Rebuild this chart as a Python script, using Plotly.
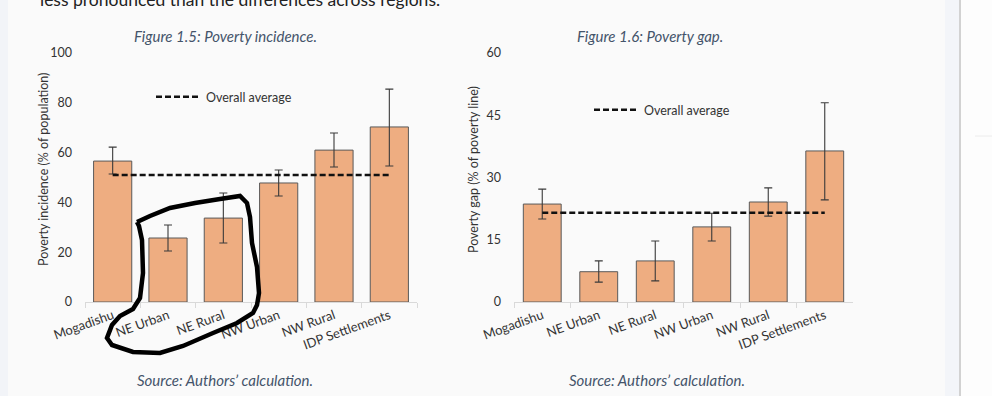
import plotly.graph_objects as go

W, H = 992, 396

categories = ["Mogadishu", "NE Urban", "NE Rural", "NW Urban", "NW Rural", "IDP Settlements"]

# Figure 1.5: Poverty incidence (% of population)
incidence = [56.6, 25.7, 33.7, 47.8, 61.0, 70.3]
incidence_hi = [62.2, 30.9, 43.8, 53.0, 67.9, 85.5]
incidence_lo = [51.4, 20.5, 23.7, 42.6, 54.2, 54.6]
incidence_avg = 51.0

# Figure 1.6: Poverty gap (% of poverty line)
gap = [23.6, 7.3, 9.9, 18.1, 24.1, 36.4]
gap_hi = [27.2, 9.9, 14.7, 21.4, 27.5, 48.0]
gap_lo = [20.0, 4.8, 5.1, 14.7, 20.7, 24.6]
gap_avg = 21.5

left_ticks = [0, 20, 40, 60, 80, 100]
right_ticks = [0, 15, 30, 45, 60]

FONT = "Lato, 'Open Sans', sans-serif"
BAR = "#EEAD81"
BAR_LINE = "#5a5a5a"
CAP = "#44546A"

# hand-drawn loop around NE Urban / NE Rural (pixel coords of the picture)
LOOP_PX = [(137, 222), (150, 216), (170, 208), (195, 203), (220, 199), (240, 196),
           (247, 203), (250, 217), (252, 243), (257, 267), (259, 293), (257, 305),
           (253, 313), (237, 323), (213, 333), (183, 346), (160, 353), (133, 352),
           (112, 345), (107, 338), (112, 325), (120, 316), (133, 309), (140, 298),
           (143, 273), (142, 240), (139, 226), (137, 222)]


def px(x):
    return x / W


def py(y):
    return 1 - y / H


def err(vals, hi, lo):
    return dict(type="data", symmetric=False,
                array=[h - v for h, v in zip(hi, vals)],
                arrayminus=[v - l for v, l in zip(vals, lo)],
                color="#3a3a3a", thickness=1.1, width=4)


fig = go.Figure()

fig.add_trace(go.Bar(x=categories, y=incidence, error_y=err(incidence, incidence_hi, incidence_lo),
                     marker=dict(color=BAR, line=dict(color=BAR_LINE, width=1)),
                     width=0.69, showlegend=False, xaxis="x", yaxis="y"))
fig.add_trace(go.Scatter(x=categories, y=[incidence_avg] * len(categories), mode="lines",
                         line=dict(color="#111111", width=2.5, dash="6px,3px"),
                         name="Overall average", legend="legend", xaxis="x", yaxis="y"))

fig.add_trace(go.Bar(x=categories, y=gap, error_y=err(gap, gap_hi, gap_lo),
                     marker=dict(color=BAR, line=dict(color=BAR_LINE, width=1)),
                     width=0.67, showlegend=False, xaxis="x2", yaxis="y2"))
fig.add_trace(go.Scatter(x=categories, y=[gap_avg] * len(categories), mode="lines",
                         line=dict(color="#111111", width=2.5, dash="6px,3px"),
                         name="Overall average", legend="legend2", xaxis="x2", yaxis="y2"))

xcommon = dict(type="category", showline=True, linecolor="#d9d9d9", linewidth=1,
               ticks="outside", tickson="boundaries", ticklen=5, tickcolor="#d9d9d9",
               tickangle=-20, showgrid=False, zeroline=False, automargin=False,
               tickfont=dict(family=FONT, size=13, color="#333333"), fixedrange=True)
ycommon = dict(showgrid=False, zeroline=False, showline=False, ticks="",
               ticklabelstandoff=12, tickfont=dict(family=FONT, size=12.5, color="#333333"),
               fixedrange=True, automargin=False)

fig.update_layout(
    width=W, height=H, autosize=False,
    margin=dict(l=0, r=0, t=0, b=0, pad=0),
    paper_bgcolor="#fafafa", plot_bgcolor="rgba(0,0,0,0)",
    font=dict(family=FONT, color="#333333"),
    xaxis=dict(domain=[px(85), px(417)], anchor="y", **xcommon),
    yaxis=dict(domain=[py(302), py(53)], anchor="x", range=[0, 100],
               tickvals=left_ticks, **ycommon),
    xaxis2=dict(domain=[px(514), px(853)], anchor="y2", **xcommon),
    yaxis2=dict(domain=[py(302), py(53)], anchor="x2", range=[0, 60],
                tickvals=right_ticks, **ycommon),
    legend=dict(x=px(151), y=py(97), xanchor="left", yanchor="middle",
                bgcolor="rgba(0,0,0,0)", font=dict(family=FONT, size=12.5, color="#333333"),
                itemwidth=45),
    legend2=dict(x=px(589), y=py(110), xanchor="left", yanchor="middle",
                 bgcolor="rgba(0,0,0,0)", font=dict(family=FONT, size=12.5, color="#333333"),
                 itemwidth=45),
    bargap=0.3,
)

ann = [
    dict(text="less pronounced than the differences across regions.", x=px(38), y=py(12),
         xanchor="left", yanchor="bottom", font=dict(family=FONT, size=17.5, color="#222222")),
    dict(text="<i>Figure 1.5: Poverty incidence.</i>", x=px(225), y=py(36),
         xanchor="center", yanchor="middle", font=dict(family=FONT, size=15, color=CAP)),
    dict(text="<i>Figure 1.6: Poverty gap.</i>", x=px(650), y=py(36),
         xanchor="center", yanchor="middle", font=dict(family=FONT, size=15, color=CAP)),
    dict(text="<i>Source: Authors’ calculation.</i>", x=px(225), y=py(380),
         xanchor="center", yanchor="middle", font=dict(family=FONT, size=15, color=CAP)),
    dict(text="<i>Source: Authors’ calculation.</i>", x=px(657), y=py(380),
         xanchor="center", yanchor="middle", font=dict(family=FONT, size=15, color=CAP)),
    dict(text="Poverty incidence (% of population)", x=px(43), y=py(170), textangle=-90,
         xanchor="center", yanchor="middle", font=dict(family=FONT, size=12.5, color="#333333")),
    dict(text="Poverty gap (% of poverty line)", x=px(473), y=py(170), textangle=-90,
         xanchor="center", yanchor="middle", font=dict(family=FONT, size=12.5, color="#333333")),
]
for a in ann:
    a.update(xref="paper", yref="paper", showarrow=False)
fig.update_layout(annotations=ann)

path = "M " + " L ".join(f"{px(x):.5f},{py(y):.5f}" for x, y in LOOP_PX)
shapes = [
    dict(type="rect", x0=0, x1=px(8), y0=0, y1=1, fillcolor="#f2f4f8", line_width=0, layer="below"),
    dict(type="rect", x0=px(945), x1=px(959), y0=0, y1=1, fillcolor="#f3f5f9", line_width=0, layer="below"),
    dict(type="rect", x0=px(961), x1=1, y0=0, y1=1, fillcolor="#fdfdfd", line_width=0, layer="below"),
    dict(type="line", x0=px(960), x1=px(960), y0=0, y1=1, line=dict(color="#d2d2d2", width=2), layer="below"),
    dict(type="line", x0=px(975), x1=1, y0=py(136), y1=py(136), line=dict(color="#ececec", width=1), layer="below"),
    dict(type="path", path=path, line=dict(color="#000000", width=4.5), layer="above"),
]
for s in shapes:
    s.update(xref="paper", yref="paper")
fig.update_layout(shapes=shapes)

fig.write_html("out.html", config={"displayModeBar": False},
               post_script="document.body.style.margin='0';")
